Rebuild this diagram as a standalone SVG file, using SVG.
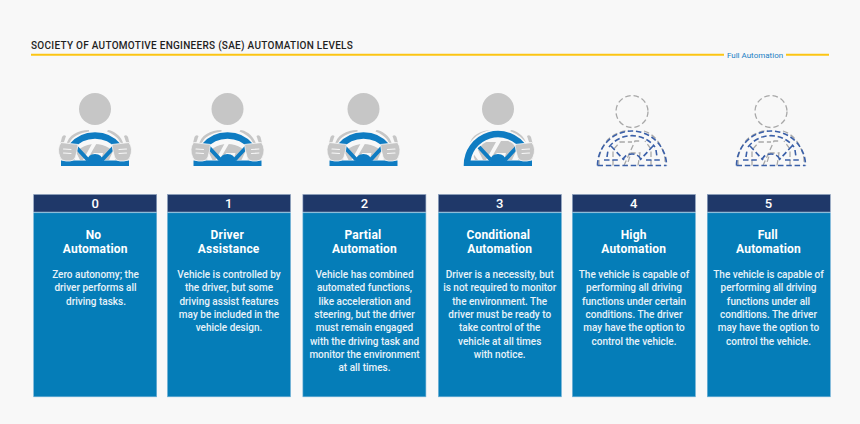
<svg xmlns="http://www.w3.org/2000/svg" xmlns:xlink="http://www.w3.org/1999/xlink" width="860" height="424" viewBox="0 0 860 424">
<style>
text{font-family:Roboto,"Liberation Sans",sans-serif}
.title{font-size:10px;font-weight:500;fill:#1f1f1f;letter-spacing:.28px}
.fa{font-size:8px;fill:#1a7fc4;text-anchor:middle}
.num{font-size:13px;font-weight:500;fill:#fff;text-anchor:middle}
.hd{font-size:12px;font-weight:700;fill:#fff;text-anchor:middle;letter-spacing:.2px}
.bd{font-size:10px;font-weight:500;fill:#e8f2f8;text-anchor:middle}
.top{fill:#1f3869;stroke:#8ea2c0;stroke-width:.6}
.body{fill:#057db8;stroke:#6fb0d6;stroke-width:.6}
.g{fill:#c6c6c6}
.wh{fill:none;stroke:#f8f8f8;stroke-linecap:round}
.wl{fill:none;stroke:#0f7cc2}
.db{fill:none;stroke:#3a5fa8;stroke-width:1.6;stroke-dasharray:5.500 2.800}
.dg{fill:none;stroke:#a8a8a8;stroke-width:1.300;stroke-dasharray:5.500 3}
</style>
<defs>
<g id="chest">
<circle class="g" cx="0" cy="109" r="16"/>
<path class="g" d="M-29 146C-27 135-17 130-6 130L-6 131.500C-16 133-23 137-25 142Z"/>
<path class="g" d="M29 146C27 135 17 130 13 130L12 131.500C16 133 23 137 25 142Z"/>
<path class="g" d="M-15 160L-20 150L-14 142L-2 142L-12 160ZM-8 160L3 141L13 141L19 149L14 160L6 160L8 153L-1 153Z"/>
<path class="g" d="M-23 160L-26 152L-20 160ZM23 160L26 152L20 160Z"/>
</g>
<g id="hl">
<path class="g" d="M-31 142L-29 136Q-31.500 134-33 137L-34.500 143Z"/>
<path class="g" d="M-34 142.500L-17 144.500Q-18 152-19.500 157Q-21 161-25 161L-29 161Q-34 161-35 157Q-38.500 149-34 142.500Z" stroke="#f8f8f8" stroke-width=".8"/>
<path class="wh" stroke-width="1.100" d="M-31.500 149L-24 149.500M-31.500 153L-24 153.500"/>
</g>
<g id="wheelbase">
<path class="wl" stroke-width="4" d="M-19 147L-7 160M19 147L7 160"/>
<path fill="#0f7cc2" d="M-8 161Q-7 154 0 154Q7 154 8 161Z"/>
</g>
<g id="dash">
<circle class="dg" cx="0" cy="111.500" r="16"/>
<path class="dg" d="M-33 165.500L-33 158C-30 142-20 132-3 130.500M12 131C22 134 30 144 33 158L33 165.500M-19 165.500L-19 150L-12 142L0 142M-8 165.500L3 141L10 141M6 165.500L8 153L-1 153L-5 165.500M19 165.500L19 149L13 141"/>
<path class="db" d="M-34.500 165.500A34.500 34.500 0 0 1 34.500 165.500M-23 147A29 29 0 0 1 23 147M-34.500 165.500L34.500 165.500M-25 157L-24 150M24 150L25 157M-21 146L-8 160M21 146L8 160M-9 160Q-7 154 0 154Q7 154 9 160M-28 160L-14 160M14 160L28 160"/>
</g>
<g id="drv">
<use href="#chest"/>
<path class="wh" stroke-width="9.500" d="M-28 157A31 31 0 0 1 28 157"/>
<path class="wl" stroke-width="6.500" d="M-24 147A31 31 0 0 1 24 147"/>
<rect x="-34" y="160.500" width="68" height="5.500" fill="#0f7cc2"/>
<use href="#wheelbase"/>
<use href="#hl"/>
<use href="#hl" transform="scale(-1 1)"/>
</g>
<g id="drv3">
<use href="#chest"/>
<path class="wh" stroke-width="10" d="M-31 166A31 31 0 0 1 26.500 149"/>
<path class="wl" stroke-width="6.500" d="M-31 166A31 31 0 0 1 26.500 149"/>
<rect x="-34" y="160.500" width="68" height="5.500" fill="#0f7cc2"/>
<use href="#wheelbase"/>
<use href="#hl" transform="scale(-1 1)"/>
</g>
</defs>
<rect width="860" height="424" fill="#f8f8f8"/>
<text class="title" x="31" y="48.500">SOCIETY OF AUTOMOTIVE ENGINEERS (SAE) AUTOMATION LEVELS</text>
<path d="M31 54.800H724M786 54.800H829" stroke="#fcc514" stroke-width="2" fill="none"/>
<text class="fa" x="755" y="57.800">Full Automation</text>
<g id="level-0">
<use href="#drv" x="95"/>
<rect class="top" x="33.700" y="194.500" width="123" height="17.500"/><rect class="body" x="33.700" y="212.800" width="123" height="184"/>
<text class="num" x="95.300" y="208">0</text>
<text class="hd"><tspan x="93.500" y="239">No</tspan><tspan x="95.300" y="253">Automation</tspan></text>
<text class="bd"><tspan x="95.500" y="278">Zero autonomy; the</tspan><tspan x="95.500" y="291.300">driver performs all</tspan><tspan x="96" y="304.600">driving tasks.</tspan></text>
</g>
<g id="level-1">
<use href="#drv" x="227.500"/>
<rect class="top" x="167.500" y="194.500" width="123" height="17.500"/><rect class="body" x="167.500" y="212.800" width="123" height="184"/>
<text class="num" x="228.700" y="208">1</text>
<text class="hd"><tspan x="227.300" y="239">Driver</tspan><tspan x="228.700" y="253">Assistance</tspan></text>
<text class="bd"><tspan x="229" y="278">Vehicle is controlled by</tspan><tspan x="229" y="291.300">the driver, but some</tspan><tspan x="229" y="304.600">driving assist features</tspan><tspan x="229" y="317.900">may be included in the</tspan><tspan x="229" y="331.200">vehicle design.</tspan></text>
</g>
<g id="level-2">
<use href="#drv" x="363.500"/>
<rect class="top" x="302.900" y="194.500" width="123" height="17.500"/><rect class="body" x="302.900" y="212.800" width="123" height="184"/>
<text class="num" x="364.500" y="208">2</text>
<text class="hd"><tspan x="363" y="239">Partial</tspan><tspan x="364.500" y="253">Automation</tspan></text>
<text class="bd"><tspan x="364.500" y="278">Vehicle has combined</tspan><tspan x="364.500" y="291.300">automated functions,</tspan><tspan x="364.500" y="304.600">like acceleration and</tspan><tspan x="364.500" y="317.900">steering, but the driver</tspan><tspan x="364.500" y="331.200">must remain engaged</tspan><tspan x="364.500" y="344.500">with the driving task and</tspan><tspan x="364.500" y="357.800">monitor the environment</tspan><tspan x="364.500" y="371.100">at all times.</tspan></text>
</g>
<g id="level-3">
<use href="#drv3" x="498"/>
<rect class="top" x="438.400" y="194.500" width="123" height="17.500"/><rect class="body" x="438.400" y="212.800" width="123" height="184"/>
<text class="num" x="499.700" y="208">3</text>
<text class="hd"><tspan x="498.300" y="239">Conditional</tspan><tspan x="499.700" y="253">Automation</tspan></text>
<text class="bd"><tspan x="499.700" y="278">Driver is a necessity, but</tspan><tspan x="499.700" y="291.300">is not required to monitor</tspan><tspan x="499.700" y="304.600">the environment. The</tspan><tspan x="499.700" y="317.900">driver must be ready to</tspan><tspan x="499.700" y="331.200">take control of the</tspan><tspan x="499.700" y="344.500">vehicle at all times</tspan><tspan x="499.700" y="357.800">with notice.</tspan></text>
</g>
<g id="level-4">
<use href="#dash" x="632"/>
<rect class="top" x="572.400" y="194.500" width="123" height="17.500"/><rect class="body" x="572.400" y="212.800" width="123" height="184"/>
<text class="num" x="633.700" y="208">4</text>
<text class="hd"><tspan x="633.700" y="239">High</tspan><tspan x="633.700" y="253">Automation</tspan></text>
<text class="bd"><tspan x="634" y="278">The vehicle is capable of</tspan><tspan x="634" y="291.300">performing all driving</tspan><tspan x="634" y="304.600">functions under certain</tspan><tspan x="634" y="317.900">conditions. The driver</tspan><tspan x="634" y="331.200">may have the option to</tspan><tspan x="634" y="344.500">control the vehicle.</tspan></text>
</g>
<g id="level-5">
<use href="#dash" x="771"/>
<rect class="top" x="707.300" y="194.500" width="123" height="17.500"/><rect class="body" x="707.300" y="212.800" width="123" height="184"/>
<text class="num" x="768.500" y="208">5</text>
<text class="hd"><tspan x="767.800" y="239">Full</tspan><tspan x="768.500" y="253">Automation</tspan></text>
<text class="bd"><tspan x="768.500" y="278">The vehicle is capable of</tspan><tspan x="768.500" y="291.300">performing all driving</tspan><tspan x="768.500" y="304.600">functions under all</tspan><tspan x="768.500" y="317.900">conditions. The driver</tspan><tspan x="768.500" y="331.200">may have the option to</tspan><tspan x="768.500" y="344.500">control the vehicle.</tspan></text>
</g>
</svg>
